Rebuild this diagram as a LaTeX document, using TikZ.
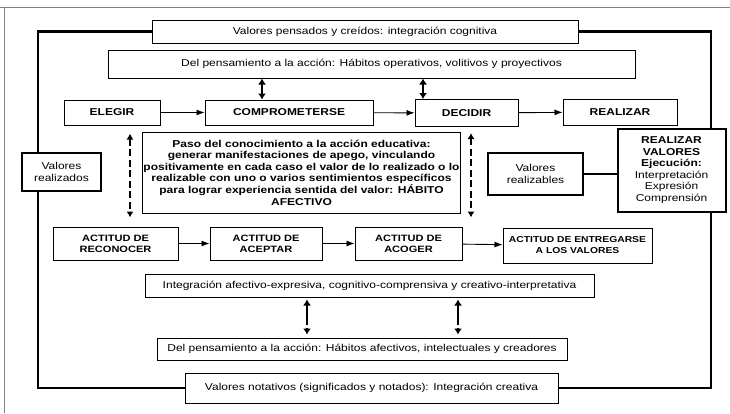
\documentclass[tikz,border=0pt]{standalone}
\usepackage{fontspec}
\setmainfont{Liberation Sans}[FakeStretch=1.2]
\usetikzlibrary{arrows.meta}
\begin{document}
\begin{tikzpicture}[x=1pt, y=-1pt, >={Latex[length=8pt,width=6pt]},
  box/.style={draw, line width=1pt, inner sep=1pt, align=center, font=\fontsize{10}{11.6}\selectfont},
  bbox/.style={box, font=\fontsize{10}{11.6}\selectfont\bfseries},
  abox/.style={box, font=\fontsize{9.2}{11}\selectfont\bfseries, minimum height=33},
  link/.style={line width=2.2pt},
  flow/.style={->, line width=.9pt},
  dbl/.style={{Latex[length=6pt,width=8pt]}-{Latex[length=6pt,width=8pt]}, line width=2pt},
  dsh/.style={{Latex[length=6pt,width=7pt]}-{Latex[length=6pt,width=7pt]}, line width=1.5pt, dash pattern=on 7pt off 3.5pt},
  lsh/.style={{Latex[length=6pt,width=8pt]}-{Latex[length=6pt,width=8pt]}, line width=1.8pt, dash pattern=on 20pt off 3pt}]
\useasboundingbox (0,0) rectangle (730,413);
\draw[gray, line width=.8pt] (0,7)--(730,7) (4,7)--(4,413);

\node[box, minimum width=426, minimum height=23] (pens) at (365,31.5) {Valores pensados y creídos: integración cognitiva};
\node[box, minimum width=527, minimum height=28] (hab1) at (371.5,64) {Del pensamiento a la acción: Hábitos operativos, volitivos y proyectivos};

\node[bbox, minimum width=96, minimum height=25] (elegir) at (112,112.5) {ELEGIR};
\node[bbox, minimum width=168, minimum height=25] (compr) at (289,112.5) {COMPROMETERSE};
\node[bbox, minimum width=103, minimum height=27] (decidir) at (466.5,113) {DECIDIR};
\node[bbox, minimum width=114, minimum height=26] (realizar) at (620,112) {REALIZAR};

\node[bbox, minimum width=313, minimum height=81] (paso) at (301.5,172.5) {Paso del conocimiento a la acción educativa:\\
generar manifestaciones de apego, vinculando\\
positivamente en cada caso el valor de lo realizado o lo\\
realizable con uno o varios sentimientos específicos\\
para lograr experiencia sentida del valor: HÁBITO\\
AFECTIVO};

\node[box, line width=1.4pt, minimum width=79, minimum height=38] (valreal) at (61.5,172) {Valores\\realizados};
\node[box, line width=1.4pt, minimum width=95, minimum height=42] (valizables) at (535.5,174) {Valores\\realizables};
\node[box, line width=2pt, minimum width=108, minimum height=83] (realval) at (671.5,170) {\textbf{REALIZAR}\\\textbf{VALORES}\\\textbf{Ejecución:}\\Interpretación\\Expresión\\Comprensión};

\node[abox, minimum width=125] (recon) at (115.5,243.5) {ACTITUD DE\\RECONOCER};
\node[abox, minimum width=112] (acept) at (266,243.5) {ACTITUD DE\\ACEPTAR};
\node[abox, minimum width=107] (acoger) at (408.5,243.5) {ACTITUD DE\\ACOGER};
\node[abox, minimum width=149, minimum height=35, font=\fontsize{8.6}{11}\selectfont\bfseries] (entreg) at (577.5,245.5) {ACTITUD DE ENTREGARSE\\A LOS VALORES};

\node[box, minimum width=449, minimum height=23] (integ) at (369.5,285.5) {Integración afectivo-expresiva, cognitivo-comprensiva y creativo-interpretativa};
\node[box, minimum width=410, minimum height=22] (hab2) at (362,349) {Del pensamiento a la acción: Hábitos afectivos, intelectuales y creadores};
\node[box, minimum width=373, minimum height=30] (notat) at (371.5,388) {Valores notativos (significados y notados): Integración creativa};

\draw[flow] (elegir)--(compr);
\draw[flow] (compr)--(decidir);
\draw[flow] (decidir)--(realizar);
\draw[flow] (recon)--(acept);
\draw[flow] (acept)--(acoger);
\draw[flow] (acoger)--(entreg);

\draw[dbl] (hab1.south -| 262,0)--(compr.north -| 262,0);
\draw[dbl] (hab1.south -| 423,0)--(decidir.north -| 423,0);
\draw[dsh, shorten <=8pt, shorten >=9pt] (elegir.south -| 130,0)--(recon.north -| 130,0);
\draw[dsh, shorten <=6pt, shorten >=9pt] (decidir.south -| 471,0)--(acoger.north -| 471,0);
\draw[lsh, shorten <=2pt, shorten >=3pt] (integ.south -| 307,0)--(hab2.north -| 307,0);
\draw[lsh, shorten <=2pt, shorten >=3pt] (integ.south -| 458,0)--(hab2.north -| 458,0);

\draw[link] (pens.west) -| (valreal.north -| 38,0);
\draw[link] (valreal.south -| 38,0) |- (notat.west);
\draw[link] (pens.east) -| (realval.north -| 711,0);
\draw[link] (realval.south -| 711,0) |- (notat.east);
\draw[link] (valizables.east)--(valizables.east -| realval.west);
\end{tikzpicture}
\end{document}
